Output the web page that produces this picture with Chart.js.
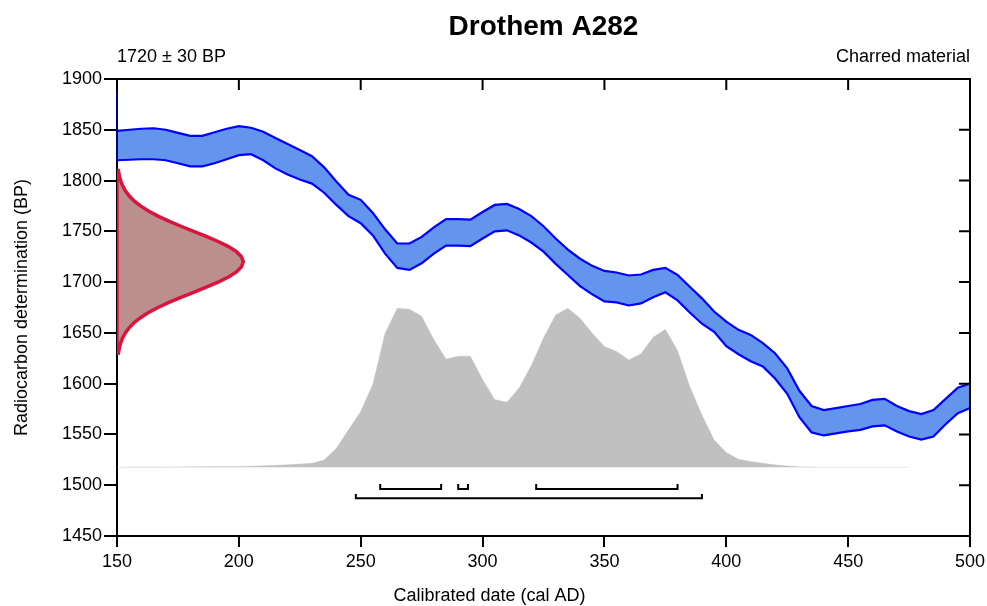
<!DOCTYPE html>
<html>
<head>
<meta charset="utf-8">
<script src="https://cdn.jsdelivr.net/npm/chart.js@4.4.1/dist/chart.umd.min.js"></script>
<style>
  body { margin: 0; background: #fff; }
  canvas { display: block; }
</style>
</head>
<body>
<canvas id="calPlot" width="987" height="606"></canvas>
<script>
// calibration curve (IntCal, 5 yr grid)
const calYears = [150,155,160,165,170,175,180,185,190,195,200,205,210,215,220,225,230,235,240,245,
  250,255,260,265,270,275,280,285,290,295,300,305,310,315,320,325,330,335,340,345,
  350,355,360,365,370,375,380,385,390,395,400,405,410,415,420,425,430,435,440,445,
  450,455,460,465,470,475,480,485,490,495,500];
const curveUpper = [1849,1850,1851,1851.5,1850,1847,1844,1844,1847.5,1851,1853.5,1852,1848,1842,1836,1830,1824,1813,1799,1786,
  1781,1768,1752,1738,1738,1744.5,1754,1762,1762,1761.5,1769,1776,1777,1772,1765,1755,1743,1732,1723,1716,
  1711,1709.5,1706.5,1707.5,1712,1714,1707,1695.5,1684,1671,1661,1653,1648,1640,1630,1615,1593,1578,1574,1576,
  1578,1580,1584,1585,1578,1573,1570,1574,1585,1596,1600];
const curveLower = [1820,1820.5,1821,1821,1820,1817,1814,1814,1817,1821,1825,1826,1820,1812,1806,1801,1797,1788,1776,1765,
  1758,1746,1728,1714,1712,1718.5,1728,1736,1736,1735.5,1743,1750,1751,1746,1739,1730,1718,1707,1696,1688,
  1681,1680,1677,1679,1685,1690,1682,1670,1659,1651,1637,1629,1622,1617,1605,1590,1567,1552,1549,1551,
  1553,1554.5,1558,1559,1553,1548,1545,1548,1560,1571,1576];

// calibrated probability (relative), 150..475
const probValues = [0,0.001,0.001,0.001,0.002,0.002,0.003,0.003,0.004,0.004,
  0.005,0.007,0.009,0.012,0.016,0.020,0.025,0.046,0.119,0.235,
  0.350,0.524,0.843,1.000,0.994,0.950,0.803,0.681,0.698,0.698,
  0.552,0.426,0.409,0.499,0.640,0.813,0.958,1.000,0.937,0.843,
  0.759,0.728,0.675,0.713,0.818,0.868,0.734,0.508,0.329,0.172,
  0.092,0.050,0.036,0.025,0.015,0.008,0.003,0.001,0,0,
  0,0,0,0,0,0];

// radiocarbon determination 1720 +- 30 BP
const c14Levels = [1810,1805,1800,1795,1790,1785,1780,1775,1770,1765,1760,1755,1750,1745,1740,1735,1730,1725,
  1720,1715,1710,1705,1700,1695,1690,1685,1680,1675,1670,1665,1660,1655,1650,1645,1640,1635,1630];
const c14Density = [0.011,0.018,0.029,0.044,0.066,0.096,0.135,0.186,0.249,0.325,0.411,0.506,0.607,0.707,0.801,0.883,0.946,0.986,
  1,0.986,0.946,0.883,0.801,0.707,0.607,0.506,0.411,0.325,0.249,0.186,0.135,0.096,0.066,0.044,0.029,0.018,0.011];

const range68 = [[258,283],[290,294],[322,380]];
const range95 = [[248,390]];

const xTicks = [150,200,250,300,350,400,450,500];
const yTicks = [1450,1500,1550,1600,1650,1700,1750,1800,1850,1900];

// drawing constants
const DIST_BASE = 1517.7, DIST_HEIGHT = 156.6;
const C14_WIDTH = 51.8;

Chart.defaults.font.family = "'Liberation Sans', Arial, sans-serif";
Chart.defaults.font.size = 18;
Chart.defaults.color = '#000';

const upperPts = calYears.map((x, i) => ({x: x, y: curveUpper[i]}));
const lowerPts = calYears.map((x, i) => ({x: x, y: curveLower[i]}));
const probPts = probValues.map((p, i) => ({x: calYears[i], y: DIST_BASE + p * DIST_HEIGHT}));

const c14Pts = c14Levels.map((bp, i) => ({x: 150 + c14Density[i] * C14_WIDTH, y: bp}));
c14Pts.unshift({x: 150, y: c14Levels[0]});
c14Pts.push({x: 150, y: c14Levels[c14Levels.length - 1]});
c14Pts.push({x: 150, y: c14Levels[0]});

function bracket(r, lineY, topY) {
  return {
    data: [{x: r[0], y: topY}, {x: r[0], y: lineY}, {x: r[1], y: lineY}, {x: r[1], y: topY}],
    borderColor: '#000', borderWidth: 2, pointRadius: 0, fill: false, tension: 0
  };
}
const brackets = range68.map(r => bracket(r, 1496.3, 1501.3))
  .concat(range95.map(r => bracket(r, 1487.1, 1491.4)));

const framePlugin = {
  id: 'frame',
  afterDatasetsDraw(chart) {
    const ctx = chart.ctx, a = chart.chartArea;
    const xs = chart.scales.x, ys = chart.scales.y;
    ctx.save();
    // navy edge of curve at left axis
    ctx.strokeStyle = '#000080';
    ctx.lineWidth = 2;
    ctx.beginPath();
    ctx.moveTo(a.left, ys.getPixelForValue(1900));
    ctx.lineTo(a.left, ys.getPixelForValue(curveLower[0]));
    ctx.stroke();
    // top and right border with inward ticks
    ctx.strokeStyle = '#000';
    ctx.beginPath();
    ctx.moveTo(a.left, a.top);
    ctx.lineTo(a.right, a.top);
    ctx.lineTo(a.right, a.bottom);
    xTicks.forEach(v => {
      const px = xs.getPixelForValue(v);
      ctx.moveTo(px, a.top);
      ctx.lineTo(px, a.top + 11);
    });
    yTicks.forEach(v => {
      const py = ys.getPixelForValue(v);
      ctx.moveTo(a.right, py);
      ctx.lineTo(a.right - 11, py);
    });
    ctx.stroke();
    // captions
    ctx.fillStyle = '#000';
    ctx.font = "18px 'Liberation Sans', Arial, sans-serif";
    ctx.textBaseline = 'middle';
    ctx.textAlign = 'left';
    ctx.fillText('1720 ± 30 BP', a.left, 57);
    ctx.textAlign = 'right';
    ctx.fillText('Charred material', a.right, 57);
    ctx.textAlign = 'center';
    ctx.fillText('Calibrated date (cal AD)', chart.width / 2 - 4, 596);
    ctx.restore();
  }
};

new Chart(document.getElementById('calPlot'), {
  type: 'line',
  data: {
    datasets: [
      { data: c14Pts, borderColor: '#DC143C', backgroundColor: '#BC8F8F', borderWidth: 3.5,
        fill: 'shape', pointRadius: 0, tension: 0 },
      { data: upperPts, borderColor: '#0000FF', borderWidth: 2.2, pointRadius: 0, fill: false, tension: 0 },
      { data: lowerPts, borderColor: '#0000FF', backgroundColor: '#6495ED', borderWidth: 2.2,
        pointRadius: 0, fill: '-1', tension: 0 },
      { data: probPts, borderColor: 'rgba(192,192,192,0.35)', backgroundColor: '#C0C0C0', borderWidth: 1,
        pointRadius: 0, fill: {value: DIST_BASE}, tension: 0 }
    ].concat(brackets)
  },
  options: {
    responsive: false,
    animation: false,
    layout: { padding: { top: 0, right: 17, bottom: 0, left: 0 } },
    plugins: {
      legend: { display: false },
      tooltip: { enabled: false },
      title: {
        display: true,
        text: 'Drothem A282',
        fullSize: false,
        font: { size: 28, weight: 'bold' },
        padding: { top: 10, bottom: 35.4 }
      }
    },
    scales: {
      x: {
        type: 'linear', min: 150, max: 500,
        afterFit(scale) { scale.height = 70; scale.paddingLeft = 0; scale.paddingRight = 0; },
        afterBuildTicks(scale) { scale.ticks = xTicks.map(v => ({value: v})); },
        ticks: { padding: 4, callback: v => String(v), maxRotation: 0 },
        grid: { drawOnChartArea: false, tickLength: 11, color: '#000', lineWidth: 2 },
        border: { color: '#000', width: 2 }
      },
      y: {
        type: 'linear', min: 1450, max: 1900,
        afterFit(scale) { scale.width = 117; },
        afterBuildTicks(scale) { scale.ticks = yTicks.map(v => ({value: v})); },
        ticks: { padding: 2, callback: v => String(v) },
        grid: { drawOnChartArea: false, tickLength: 13, color: '#000', lineWidth: 2 },
        border: { color: '#000', width: 2 },
        title: { display: true, text: 'Radiocarbon determination (BP)', padding: { top: 11, bottom: 4 } }
      }
    }
  },
  plugins: [framePlugin]
});
</script>
</body>
</html>
